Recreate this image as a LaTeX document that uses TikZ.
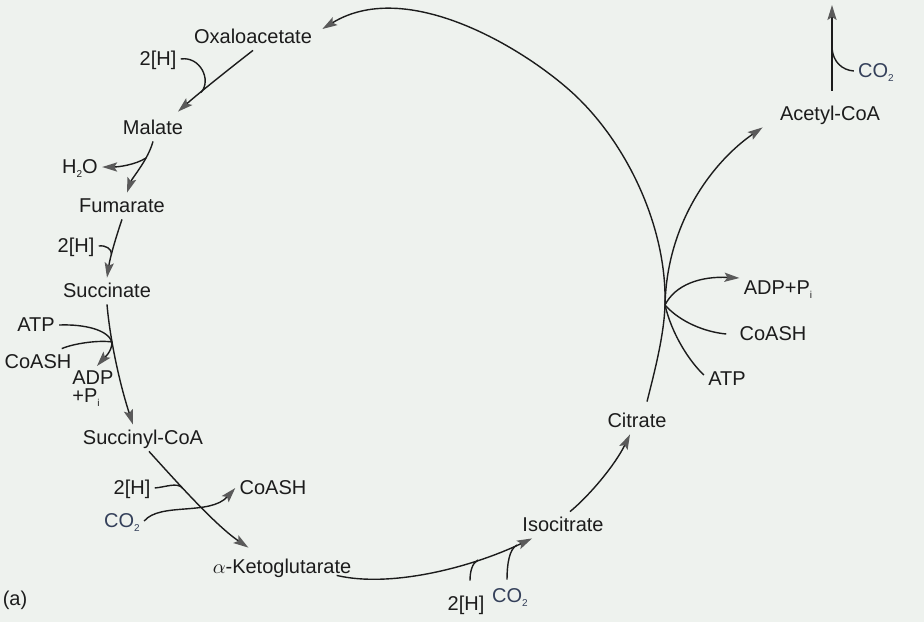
\documentclass[tikz,border=0pt]{standalone}
\usepackage{fontspec}
\setmainfont{Liberation Sans}
\usetikzlibrary{arrows.meta}
\definecolor{paper}{HTML}{EEF2EE}
\definecolor{ink}{HTML}{1C1C1C}
\definecolor{tipgray}{HTML}{5A5A5A}
\definecolor{coblue}{HTML}{34405A}
\newcommand\lowsub[1]{\raisebox{-0.45ex}{\fontsize{5}{5}\selectfont #1}}

\begin{document}
\begin{tikzpicture}[x=0.5pt,y=-0.5pt,
    every node/.style={font=\fontsize{10}{12}\selectfont,text=ink,inner sep=2pt,text height=7.5pt,text depth=1.5pt},
    ln/.style={draw=ink,line width=0.7pt},
    arr/.style={ln,-{Stealth[length=7.5pt,width=4.6pt,inset=1.5pt,color=tipgray]}},
    co/.style={text=coblue}]
      \useasboundingbox[fill=paper] (0,0) rectangle (924,622);
      \node (oxa) at (253,37) {Oxaloacetate};
      \node (hA) at (158,59) {2[H]};
      \node (mal) at (153,128) {Malate};
      \node (wat) at (80,167) {H\lowsub{2}O};
      \node (fum) at (122,206) {Fumarate};
      \node (hB) at (76,246) {2[H]};
      \node (suc) at (107,291) {Succinate};
      \node (atpA) at (36,325) {ATP};
      \node (coaA) at (38,362) {CoASH};
      \node[anchor=north west,align=left,text height=,text depth=] (adpA) at (68,366) {ADP\\[-3pt]+P\lowsub{i}};
      \node (sca) at (143,438) {Succinyl-CoA};
      \node (hC) at (132,488) {2[H]};
      \node (coaB) at (273,488) {CoASH};
      \node[co] (coC) at (122,521) {CO\lowsub{2}};
      \node (akg) at (282,567) {$\alpha$-Ketoglutarate};
      \node (lab) at (15,599) {(a)};
      \node (iso) at (563,525) {Isocitrate};
      \node (hD) at (466,604) {2[H]};
      \node[co] (coD) at (510,596) {CO\lowsub{2}};
      \node (cit) at (637,421) {Citrate};
      \node (atpB) at (727,379) {ATP};
      \node (coaC) at (773,334) {CoASH};
      \node (adpB) at (778,288) {ADP+P\lowsub{i}};
      \node (acc) at (830,114) {Acetyl-CoA};
      \node[co] (coE) at (876,71) {CO\lowsub{2}};

      \coordinate (jA) at (201,92.5);
      \coordinate (jB) at (146,158);
      \coordinate (jC) at (111.5,254.5);
      \coordinate (jD) at (112,342);
      \coordinate (jE) at (182.5,488);
      \coordinate (jF) at (478,560);
      \coordinate (jG) at (517,545);
      \coordinate (jH) at (665,305);
      \coordinate (jM) at (832,48);
      \coordinate (top) at (832,5);

      \draw[arr] (oxa.south) .. controls (238,62) and (200,92) .. ([xshift=12.5pt,yshift=1.5pt]mal.north);
      \draw[ln] (hA.east) .. controls (200,56) and (212,80) .. (jA);
      \draw[arr] (mal.south) .. controls (148,160) and (132,178) .. ([xshift=2.5pt]fum.north);
      \draw[arr] (jB) .. controls (135,165) and (118,167) .. (wat.east);
      \draw[arr] (fum.south) .. controls (115,240) and (110,258) .. (suc.north);
      \draw[ln] (hB.east) .. controls (106,245) and (112,249) .. (jC);
      \draw[arr] (suc.south) .. controls (110,340) and (120,385) .. ([xshift=-5pt]sca.north);
      \draw[ln] (atpA.east) .. controls (85,324) and (108,330) .. (jD);
      \draw[ln] ([xshift=-7pt]coaA.north east) .. controls (75,343) and (100,340) .. (jD);
      \draw[arr] (jD) .. controls (112,352) and (104,358) .. ([xshift=2pt]adpA.north);
      \draw[arr] ([xshift=3pt]sca.south) .. controls (175,480) and (215,525) .. ([xshift=20pt,yshift=3pt]akg.north west);
      \draw[ln] (hC.east) .. controls (166,487) and (177,482) .. (jE);
      \draw[arr] (coC.east) .. controls (160,502) and (210,516) .. (coaB.west);
      \draw[arr] ([xshift=-9.5pt,yshift=2.5pt]akg.south east) .. controls (390,588) and (470,568) .. ([xshift=7pt]iso.south west);
      \draw[ln] ([xshift=2pt,yshift=5pt]hD.north) .. controls (470,572) and (472,563) .. (jF);
      \draw[ln] ([xshift=-1.5pt,yshift=1.5pt]coD.north) .. controls (507,565) and (509,549) .. (jG);
      \draw[arr] ([xshift=3.5pt]iso.north) .. controls (590,495) and (615,465) .. ([xshift=-3.5pt]cit.south);
      \draw[arr] ([xshift=5pt,yshift=3pt]cit.north) .. controls (655,370) and (664,335) .. (jH)
        .. controls (667,230) and (630,150) .. (580,100)
        .. controls (535,55) and (410,-25) .. ([xshift=3pt,yshift=4pt]oxa.east);
      \draw[arr] (jH) .. controls (667,220) and (715,160) .. ([xshift=-6.5pt]acc.south west);
      \draw[arr] (jH) .. controls (675,285) and (700,276) .. ([yshift=5pt]adpB.west);
      \draw[ln] ([xshift=-4.5pt]coaC.west) .. controls (705,332) and (680,322) .. (jH);
      \draw[ln] ([yshift=2pt]atpB.west) .. controls (690,362) and (672,335) .. (jH);
      \draw[arr] ([xshift=1pt,yshift=5pt]acc.north) -- (top);
      \draw[ln] (coE.west) .. controls (842,70) and (833,62) .. (jM);
    \end{tikzpicture}
\end{document}
